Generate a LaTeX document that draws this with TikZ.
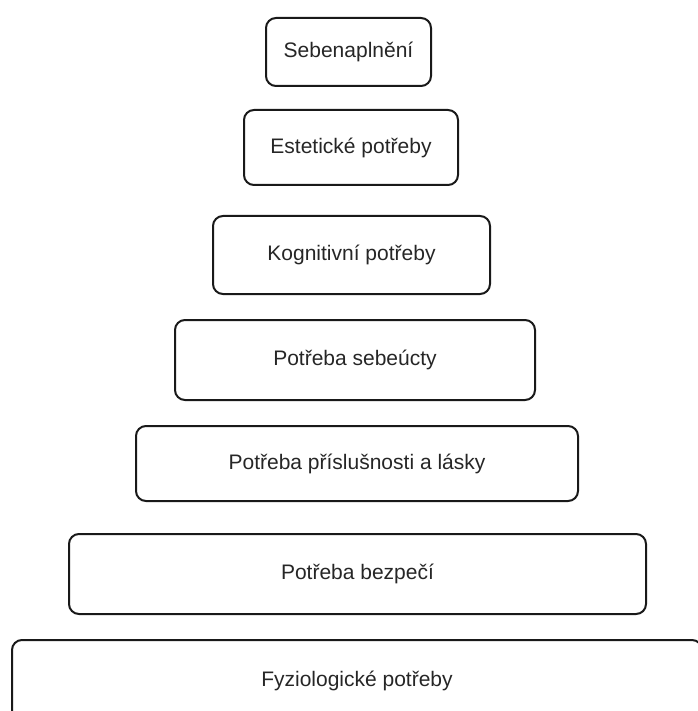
\documentclass[tikz,border=0pt]{standalone}
\usepackage{fontspec}
\setmainfont{Liberation Sans}

\tikzset{
    level/.style={draw=black!90, line width=2pt, rounded corners=10pt,
        inner sep=0pt, text=black!85, font=\fontsize{21}{25}\selectfont}
}

\begin{document}
\begin{tikzpicture}[x=1pt, y=-1pt]
        \useasboundingbox (0,0) rectangle (697,711);
        \node[level, minimum width=165pt, minimum height=68pt] (self)   at (348.5,52)  {Sebenaplnění};
        \node[level, minimum width=214pt, minimum height=75pt] (aesth)  at (351,147.5) {Estetické potřeby};
        \node[level, minimum width=277pt, minimum height=78pt] (cogn)   at (351.5,255) {Kognitivní potřeby};
        \node[level, minimum width=360pt, minimum height=80pt] (esteem) at (355,360)   {Potřeba sebeúcty};
        \node[level, minimum width=442pt, minimum height=75pt] (love)   at (357,463.5) {Potřeba příslušnosti a lásky};
        \node[level, minimum width=577pt, minimum height=80pt] (safety) at (357.5,574) {Potřeba bezpečí};
        \node[level, minimum width=690pt, minimum height=81pt] (phys)   at (357,680.5) {Fyziologické potřeby};
    \end{tikzpicture}
\end{document}
